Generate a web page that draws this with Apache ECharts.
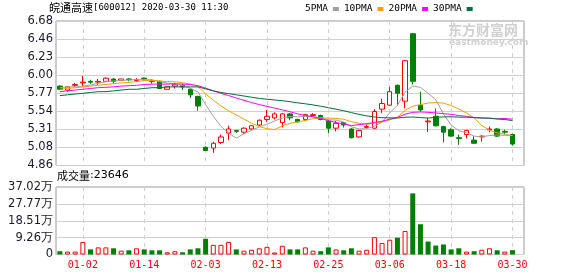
<!DOCTYPE html>
<html><head><meta charset="utf-8">
<script src="https://cdn.jsdelivr.net/npm/echarts@6/dist/echarts.min.js"></script>
<style>html,body{margin:0;padding:0;background:#fff}#c{width:578px;height:276px}</style>
</head><body><div id="c"></div>
<script>
const dates = ['12-27','12-30','12-31','01-02','01-03','01-06','01-07','01-08','01-09','01-10',
'01-13','01-14','01-15','01-16','01-17','01-20','01-21','01-22','01-23','02-03',
'02-04','02-05','02-06','02-07','02-10','02-11','02-12','02-13','02-14','02-17',
'02-18','02-19','02-20','02-21','02-24','02-25','02-26','02-27','02-28','03-02',
'03-03','03-04','03-05','03-06','03-09','03-10','03-11','03-12','03-13','03-16',
'03-17','03-18','03-19','03-20','03-23','03-24','03-25','03-26','03-27','03-30'];
const opens = [5.86,5.81,5.87,5.90,5.92,5.91,5.92,5.95,5.93,5.95,5.93,5.96,5.93,5.92,5.82,5.86,5.87,5.82,5.73,5.09,
5.08,5.15,5.27,5.30,5.28,5.32,5.37,5.44,5.46,5.40,5.51,5.44,5.44,5.49,5.49,5.42,5.33,5.40,5.32,5.22,
5.34,5.33,5.57,5.62,5.87,5.67,6.52,5.62,5.41,5.48,5.35,5.31,5.21,5.25,5.18,5.22,5.31,5.32,5.29,5.25];
const closes = [5.82,5.85,5.88,5.91,5.91,5.92,5.96,5.92,5.95,5.94,5.94,5.95,5.92,5.83,5.85,5.88,5.85,5.75,5.61,5.05,
5.14,5.22,5.32,5.29,5.33,5.36,5.43,5.48,5.51,5.51,5.46,5.41,5.50,5.50,5.44,5.33,5.39,5.37,5.21,5.30,
5.35,5.54,5.64,5.79,5.77,6.18,5.92,5.56,5.42,5.36,5.28,5.23,5.20,5.30,5.14,5.23,5.32,5.23,5.28,5.13];
const lows = [5.81,5.79,5.85,5.86,5.89,5.87,5.91,5.89,5.93,5.92,5.91,5.93,5.89,5.83,5.82,5.83,5.81,5.71,5.55,5.05,
5.02,5.13,5.18,5.27,5.26,5.31,5.36,5.41,5.44,5.34,5.43,5.40,5.42,5.48,5.43,5.27,5.29,5.34,5.20,5.21,
5.33,5.32,5.52,5.61,5.62,5.58,5.88,5.54,5.28,5.35,5.15,5.22,5.12,5.20,5.14,5.16,5.28,5.22,5.25,5.11];
const highs = [5.87,5.86,5.90,5.99,5.94,5.95,5.97,5.96,5.95,5.96,5.96,5.97,5.94,5.93,5.85,5.90,5.89,5.83,5.74,5.10,
5.16,5.25,5.36,5.31,5.34,5.37,5.44,5.56,5.53,5.52,5.52,5.45,5.51,5.52,5.50,5.43,5.42,5.41,5.33,5.31,
5.38,5.57,5.70,5.85,5.88,6.19,6.53,5.79,5.46,5.58,5.36,5.33,5.25,5.31,5.23,5.24,5.35,5.33,5.31,5.26];
const ma5 = [5.84,5.85,5.85,5.86,5.874,5.894,5.916,5.924,5.932,5.938,5.942,5.94,5.94,5.916,5.898,5.886,5.866,5.832,5.788,5.628,
5.48,5.354,5.268,5.204,5.26,5.304,5.346,5.378,5.422,5.458,5.478,5.474,5.478,5.476,5.462,5.436,5.432,5.406,5.348,5.32,
5.324,5.354,5.408,5.524,5.618,5.784,5.86,5.844,5.77,5.688,5.508,5.37,5.298,5.274,5.23,5.22,5.238,5.244,5.24,5.238];
const ma10 = [5.82,5.83,5.84,5.85,5.86,5.87,5.88,5.89,5.90,5.906,5.918,5.928,5.932,5.924,5.918,5.914,5.903,5.886,5.852,5.763,
5.683,5.61,5.55,5.496,5.444,5.392,5.35,5.323,5.313,5.359,5.391,5.41,5.428,5.449,5.46,5.457,5.453,5.442,5.412,5.391,
5.38,5.393,5.407,5.436,5.469,5.554,5.607,5.626,5.647,5.653,5.646,5.615,5.571,5.522,5.459,5.364,5.304,5.271,5.257,5.234];
const ma20 = [5.79,5.80,5.81,5.82,5.83,5.84,5.845,5.85,5.86,5.865,5.87,5.88,5.885,5.885,5.885,5.89,5.885,5.88,5.865,5.835,
5.801,5.769,5.741,5.71,5.681,5.653,5.627,5.605,5.583,5.561,5.537,5.51,5.489,5.473,5.452,5.425,5.402,5.383,5.363,5.375,
5.386,5.402,5.418,5.443,5.465,5.506,5.53,5.534,5.53,5.522,5.513,5.504,5.489,5.479,5.464,5.459,5.456,5.449,5.452,5.444];
const ma30 = [5.74,5.75,5.76,5.77,5.78,5.79,5.79,5.80,5.81,5.82,5.82,5.83,5.84,5.84,5.85,5.85,5.85,5.85,5.85,5.825,
5.80,5.78,5.765,5.75,5.735,5.72,5.705,5.695,5.685,5.676,5.664,5.649,5.637,5.623,5.607,5.588,5.569,5.55,5.526,5.504,
5.485,5.471,5.462,5.46,5.458,5.468,5.47,5.464,5.457,5.468,5.472,5.473,5.469,5.469,5.463,5.458,5.455,5.446,5.439,5.426];
// volume in 万
const volumes = [1.8,1.6,1.6,6.9,2.8,3.9,3.9,3.4,2.1,2.3,3.4,2.8,2.3,2.3,1.2,1.8,1.2,2.8,3.4,8.6,
5.3,5.3,6.9,2.8,2.1,2.6,3.4,4.2,1.1,4.8,2.8,2.8,3.9,2.1,1.8,3.9,2.8,2.3,3.4,2.1,
2.6,9.5,6.3,8.1,9.2,12.9,33.5,16.6,7.1,4.9,5.5,2.8,3.4,1.6,1.8,2.6,3.4,2.3,1.6,2.3646];
const volRise = [0,1,1,1,0,1,1,0,1,0,1,0,0,0,1,1,0,0,0,0,
1,1,1,0,1,1,1,1,1,1,0,0,1,1,0,0,1,0,0,1,
1,1,1,1,0,1,0,0,0,0,0,0,0,1,0,1,1,0,1,0];
const priceTicks = ['4.86','5.08','5.31','5.54','5.77','6.00','6.23','6.46','6.68'];
const volTicks = ['0','9.26万','18.51万','27.77万','37.02万'];
const stockName = '皖通高速';
const stockCode = '[600012]';
const stamp = '2020-03-30 11:30';

const RED = '#ff0000', GREEN = '#008000';
const PMIN = 4.86, PMAX = 6.68, PSTEP = 0.2275;
const VMAX = 37.02, VSTEP = 9.255;

const cats = dates.concat(['']);
const candleData = opens.map((o, i) => [o, closes[i], lows[i], highs[i]]);
const volData = volumes.map((v, i) => ({
  value: v,
  itemStyle: volRise[i] ? {color: '#fff', borderColor: RED, borderWidth: 1} : {color: GREEN, borderWidth: 0}
}));
const showIdx = (i) => i >= 3 && i < dates.length && (i - 3) % 8 === 0;

const chart = echarts.init(document.getElementById('c'), null, {renderer: 'canvas'});
const gridLine = {show: true, lineStyle: {color: '#cfcfcf', width: 1}};
const vDash = {show: true, interval: showIdx, alignWithLabel: true, lineStyle: {color: '#cfcfcf', type: [4, 4], width: 1}};

chart.setOption({
  animation: false,
  backgroundColor: '#fff',
  title: [
    {left: 49, top: 2, padding: 0,
     text: '{a|' + stockName + '}{b|' + stockCode + ' ' + stamp + '}',
     textStyle: {fontWeight: 'normal', rich: {
       a: {fontFamily: 'Noto Sans CJK SC', fontSize: 11, fontWeight: 'normal', color: '#000'},
       b: {fontFamily: 'DejaVu Sans Mono', fontSize: 9, fontWeight: 'normal', color: '#000'}
     }}},
    {left: 57, top: 170, padding: 0,
     text: '{a|成交量}{b|:' + Math.round(volumes[volumes.length - 1] * 10000) + '}',
     textStyle: {fontWeight: 'normal', rich: {
       a: {fontFamily: 'Noto Sans CJK SC', fontSize: 11, fontWeight: 'normal', color: '#000'},
       b: {fontFamily: 'DejaVu Sans', fontSize: 11, fontWeight: 'normal', color: '#000'}
     }}}
  ],
  legend: {
    left: 305, top: 4, padding: 0, icon: 'rect', itemWidth: 6, itemHeight: 4, itemGap: 5, align: 'right',
    textStyle: {fontFamily: 'DejaVu Sans Mono', fontSize: 9.5, color: '#000', padding: [0, 0, 0, 0]},
    data: ['5PMA', '10PMA', '20PMA', '30PMA']
  },
  graphic: [
    {type: 'text', left: 448, top: 23, style: {text: '东方财富网', fill: '#d0d0d0', font: 'bold 14px "Noto Sans CJK SC"'}},
    {type: 'text', left: 449, top: 38, style: {text: 'eastmoney.com', fill: '#d0d0d0', font: 'bold 9px "DejaVu Sans"'}}
  ],
  grid: [
    {left: 56, top: 21, width: 468, height: 144.5, show: true, borderColor: '#999', borderWidth: 1, backgroundColor: 'transparent'},
    {left: 56, top: 187, width: 468, height: 67.5, show: true, borderColor: '#999', borderWidth: 1, backgroundColor: 'transparent'}
  ],
  xAxis: [
    {type: 'category', gridIndex: 0, data: cats, boundaryGap: true,
     axisLine: {show: false}, axisTick: {show: false}, axisLabel: {show: false}, splitLine: vDash},
    {type: 'category', gridIndex: 1, data: cats, boundaryGap: true,
     axisLine: {show: false}, axisTick: {show: false},
     axisLabel: {show: true, interval: showIdx, color: RED, fontFamily: 'DejaVu Sans Mono', fontSize: 10, margin: 6},
     splitLine: vDash}
  ],
  yAxis: [
    {type: 'value', gridIndex: 0, min: PMIN, max: PMAX, interval: PSTEP, scale: true,
     axisLine: {show: false}, axisTick: {show: false}, splitLine: gridLine,
     axisLabel: {color: '#1a1a2e', fontFamily: 'DejaVu Sans', fontSize: 11.5, margin: 3,
       formatter: (v) => priceTicks[Math.round((v - PMIN) / PSTEP)]}},
    {type: 'value', gridIndex: 1, min: 0, max: VMAX, interval: VSTEP,
     axisLine: {show: false}, axisTick: {show: false}, splitLine: gridLine,
     axisLabel: {color: '#1a1a2e', fontFamily: 'DejaVu Sans', fontSize: 11.5, margin: 3,
       formatter: (v) => volTicks[Math.round(v / VSTEP)]}}
  ],
  series: [
    {type: 'candlestick', name: 'K', xAxisIndex: 0, yAxisIndex: 0, data: candleData, barWidth: 5,
     itemStyle: {color: '#fff', color0: GREEN, borderColor: RED, borderColor0: GREEN, borderWidth: 1}},
    {type: 'line', name: '5PMA', data: ma5, xAxisIndex: 0, yAxisIndex: 0, symbol: 'none', color: '#a0a0a0', lineStyle: {width: 1}},
    {type: 'line', name: '10PMA', data: ma10, xAxisIndex: 0, yAxisIndex: 0, symbol: 'none', color: '#f5a000', lineStyle: {width: 1}},
    {type: 'line', name: '20PMA', data: ma20, xAxisIndex: 0, yAxisIndex: 0, symbol: 'none', color: '#ff00ff', lineStyle: {width: 1}},
    {type: 'line', name: '30PMA', data: ma30, xAxisIndex: 0, yAxisIndex: 0, symbol: 'none', color: '#006f3c', lineStyle: {width: 1}},
    {type: 'bar', name: 'VOL', xAxisIndex: 1, yAxisIndex: 1, data: volData, barWidth: 5}
  ]
});
</script>
</body></html>
